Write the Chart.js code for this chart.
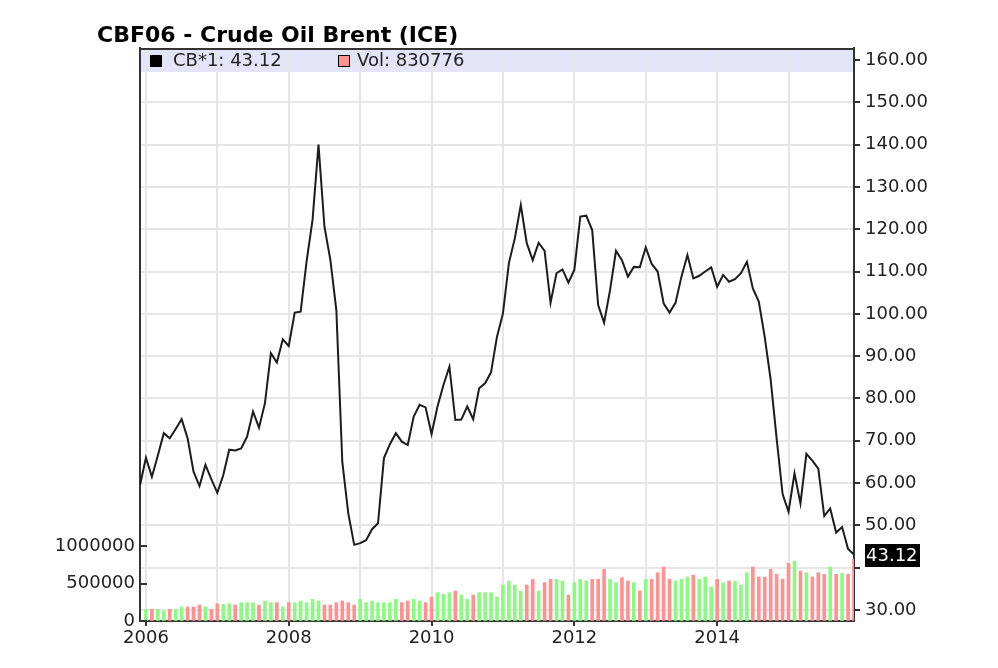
<!DOCTYPE html>
<html>
<head>
<meta charset="utf-8">
<title>CBF06 - Crude Oil Brent (ICE)</title>
<script src="https://cdn.jsdelivr.net/npm/chart.js@4.4.1/dist/chart.umd.min.js"></script>
<style>
  html, body { margin: 0; padding: 0; background: #fff; }
  #wrap { width: 998px; height: 668px; position: relative; }
</style>
</head>
<body>
<div id="wrap"><canvas id="brentChart"></canvas></div>
<script>
// Monthly closes, Dec 2005 .. Dec 2015 (last one is the current quote)
const prices = [
  59.5,
  66.0, 61.5, 66.5, 71.8, 70.6, 72.8, 75.1, 70.6, 62.7, 59.3, 64.3, 60.9,
  57.7, 61.9, 67.9, 67.7, 68.2, 71.0, 76.9, 73.1, 78.9, 90.7, 88.5, 94.0,
  92.4, 100.3, 100.5, 112.4, 122.2, 140.0, 120.6, 112.7, 100.9, 65.0, 52.9, 45.4,
  45.8, 46.5, 49.1, 50.5, 65.9, 69.2, 71.8, 69.8, 69.0, 75.7, 78.5, 77.9,
  71.6, 78.1, 83.2, 87.5, 74.9, 75.0, 78.1, 75.1, 82.4, 83.6, 86.2, 94.6,
  100.1, 112.0, 117.9, 125.7, 116.7, 112.7, 116.8, 114.9, 102.6, 109.6, 110.5, 107.4,
  110.4, 123.0, 123.2, 119.8, 102.1, 97.9, 105.6, 114.9, 112.7, 108.8, 111.1, 111.0,
  115.7, 111.8, 110.0, 102.5, 100.3, 102.6, 108.8, 113.9, 108.4, 109.0, 110.0, 111.0,
  106.4, 109.2, 107.6, 108.2, 109.6, 112.3, 106.0, 102.9, 94.5, 84.4, 70.5, 57.4,
  53.2, 62.3, 55.2, 66.9, 65.3, 63.4, 52.2, 54.0, 48.3, 49.6, 44.4, 43.12
];

// Monthly volume (contracts)
const volumes = [
  null,
  156000, 156000, 156000, 134000, 156000, 156000, 188000, 188000, 188000, 214000, 188000, 156000,
  232000, 223000, 232000, 214000, 246000, 246000, 246000, 214000, 268000, 246000, 246000, 188000,
  246000, 246000, 268000, 246000, 290000, 268000, 214000, 214000, 246000, 268000, 246000, 214000,
  290000, 246000, 268000, 246000, 246000, 246000, 290000, 246000, 268000, 290000, 268000, 246000,
  322000, 380000, 357000, 380000, 402000, 348000, 290000, 348000, 380000, 380000, 380000, 322000,
  482000, 536000, 482000, 402000, 482000, 558000, 402000, 514000, 558000, 558000, 536000, 348000,
  514000, 558000, 536000, 558000, 558000, 692000, 558000, 514000, 581000, 536000, 514000, 402000,
  558000, 558000, 648000, 724000, 558000, 536000, 558000, 590000, 617000, 558000, 590000, 456000,
  558000, 514000, 536000, 536000, 482000, 648000, 724000, 590000, 590000, 692000, 625000, 558000,
  773000, 804000, 670000, 648000, 590000, 648000, 625000, 724000, 625000, 639000, 625000, 830776
];

const priceTicks = [30, 40, 50, 60, 70, 80, 90, 100, 110, 120, 130, 140, 150, 160];
const volTicks = [0, 500000, 1000000];
const yearLabels = ['2006', '2008', '2010', '2012', '2014'];

// Month categories, starting Dec 2005
const monthNames = ['Jan', 'Feb', 'Mar', 'Apr', 'May', 'Jun', 'Jul', 'Aug', 'Sep', 'Oct', 'Nov', 'Dec'];
const months = [];
for (let i = 0; i < prices.length; i++) {
    const d = new Date(2005, 11 + i, 1);
    months.push(monthNames[d.getMonth()] + ' ' + d.getFullYear());
}

const UP = 'rgb(140, 250, 130)';
const DOWN = 'rgb(255, 145, 145)';
const barColors = prices.map((p, i) => (i > 0 && p < prices[i - 1]) ? DOWN : UP);

const AXIS = '#333';
const GRID = '#e6e6e6';

Chart.defaults.font.family = '"DejaVu Sans", Verdana, sans-serif';
Chart.defaults.font.size = 18;
Chart.defaults.color = '#222';

// Title, legend band, last price box
const decorPlugin = {
    id: 'decor',
    beforeDraw(chart) {
        const { ctx, chartArea } = chart;
        ctx.save();
        ctx.fillStyle = '#e4e4f8';
        ctx.fillRect(chartArea.left, chartArea.top, chartArea.right - chartArea.left, 24);
        ctx.restore();
    },
    afterDraw(chart) {
        const { ctx, chartArea } = chart;
        const ds = chart.data.datasets;
        ctx.save();

        // title
        ctx.fillStyle = '#000';
        ctx.font = 'bold 22px "DejaVu Sans"';
        ctx.textBaseline = 'alphabetic';
        ctx.fillText('CBF06 - Crude Oil Brent (ICE)', 97, 42);

        // top border
        ctx.strokeStyle = AXIS;
        ctx.lineWidth = 2;
        ctx.beginPath();
        ctx.moveTo(chartArea.left - 1, chartArea.top + 1);
        ctx.lineTo(chartArea.right + 1, chartArea.top + 1);
        ctx.stroke();

        // legend
        ctx.font = '18px "DejaVu Sans"';
        ctx.textBaseline = 'middle';
        ctx.fillStyle = '#000';
        ctx.fillRect(150, 55, 12, 12);
        ctx.fillStyle = '#222';
        ctx.fillText(ds[0].label + ': ' + prices[prices.length - 1].toFixed(2), 173, 61);
        ctx.fillStyle = DOWN;
        ctx.fillRect(338, 55, 12, 12);
        ctx.lineWidth = 1;
        ctx.strokeStyle = '#000';
        ctx.strokeRect(338.5, 55.5, 11, 11);
        ctx.fillStyle = '#222';
        ctx.fillText(ds[1].label + ': ' + volumes[volumes.length - 1], 357, 61);

        // inward ticks on the volume axis
        const vol = chart.scales.vol;
        ctx.strokeStyle = AXIS;
        ctx.lineWidth = 2;
        volTicks.forEach(v => {
            const y = Math.round(vol.getPixelForValue(v));
            ctx.beginPath();
            ctx.moveTo(chartArea.left, y);
            ctx.lineTo(chartArea.left + 7, y);
            ctx.stroke();
        });

        // last price box
        const last = prices[prices.length - 1];
        const py = chart.scales.price.getPixelForValue(last);
        ctx.fillStyle = '#000';
        ctx.fillRect(865, Math.round(py) - 10, 55, 23);
        ctx.fillStyle = '#fff';
        ctx.textBaseline = 'middle';
        ctx.fillText(last.toFixed(2), 866, Math.round(py) + 2);
        ctx.restore();
    }
};

function isJan(index) {
    const lbl = months[index];
    return lbl && lbl.startsWith('Jan');
}

function labelFor(index) {
    if (!isJan(index)) return '';
    const yr = months[index].slice(4);
    return yearLabels.includes(yr) ? yr : '';
}

const ctx = document.getElementById('brentChart').getContext('2d');
new Chart(ctx, {
    type: 'line',
    data: {
        labels: months,
        datasets: [{
            label: 'CB*1',
            data: prices,
            yAxisID: 'price',
            borderColor: '#1c1c1c',
            borderWidth: 2,
            pointRadius: 0,
            tension: 0,
            fill: false,
            order: 0
        }, {
            type: 'bar',
            label: 'Vol',
            data: volumes,
            yAxisID: 'vol',
            backgroundColor: barColors,
            borderWidth: 0,
            barThickness: 3,
            order: 1
        }]
    },
    options: {
        responsive: true,
        maintainAspectRatio: false,
        animation: false,
        layout: { padding: { top: 48, left: 0, right: 0, bottom: 0 } },
        plugins: {
            legend: { display: false },
            title: { display: false },
            tooltip: { enabled: false }
        },
        scales: {
            x: {
                type: 'category',
                offset: false,
                grid: {
                    offset: false,
                    lineWidth: 2,
                    color: c => isJan(c.index) ? GRID : 'rgba(0,0,0,0)',
                    tickColor: c => labelFor(c.index) ? AXIS : 'rgba(0,0,0,0)',
                    tickLength: 5
                },
                border: { color: AXIS, width: 2 },
                ticks: {
                    autoSkip: false,
                    maxRotation: 0,
                    padding: 2,
                    callback: (v, i) => labelFor(i)
                },
                afterFit: s => { s.height = 47; }
            },
            price: {
                type: 'linear',
                position: 'right',
                min: 27.4,
                max: 162.84,
                afterBuildTicks: s => { s.ticks = priceTicks.map(v => ({ value: v })); },
                grid: {
                    lineWidth: 2,
                    color: c => (c.tick && c.tick.value === 160) ? 'rgba(0,0,0,0)' : GRID,
                    tickColor: AXIS,
                    tickLength: 6
                },
                border: { color: AXIS, width: 2 },
                ticks: {
                    padding: 5,
                    callback: v => v === 40 ? '' : v.toFixed(2)
                },
                afterFit: s => { s.width = 144; }
            },
            vol: {
                type: 'linear',
                position: 'left',
                min: 0,
                max: 7680000,
                afterBuildTicks: s => { s.ticks = volTicks.map(v => ({ value: v })); },
                grid: { drawOnChartArea: false, drawTicks: false },
                border: { color: AXIS, width: 2 },
                ticks: {
                    padding: 5,
                    callback: v => String(v)
                },
                afterFit: s => { s.width = 140; }
            }
        }
    },
    plugins: [decorPlugin]
});
</script>
</body>
</html>
